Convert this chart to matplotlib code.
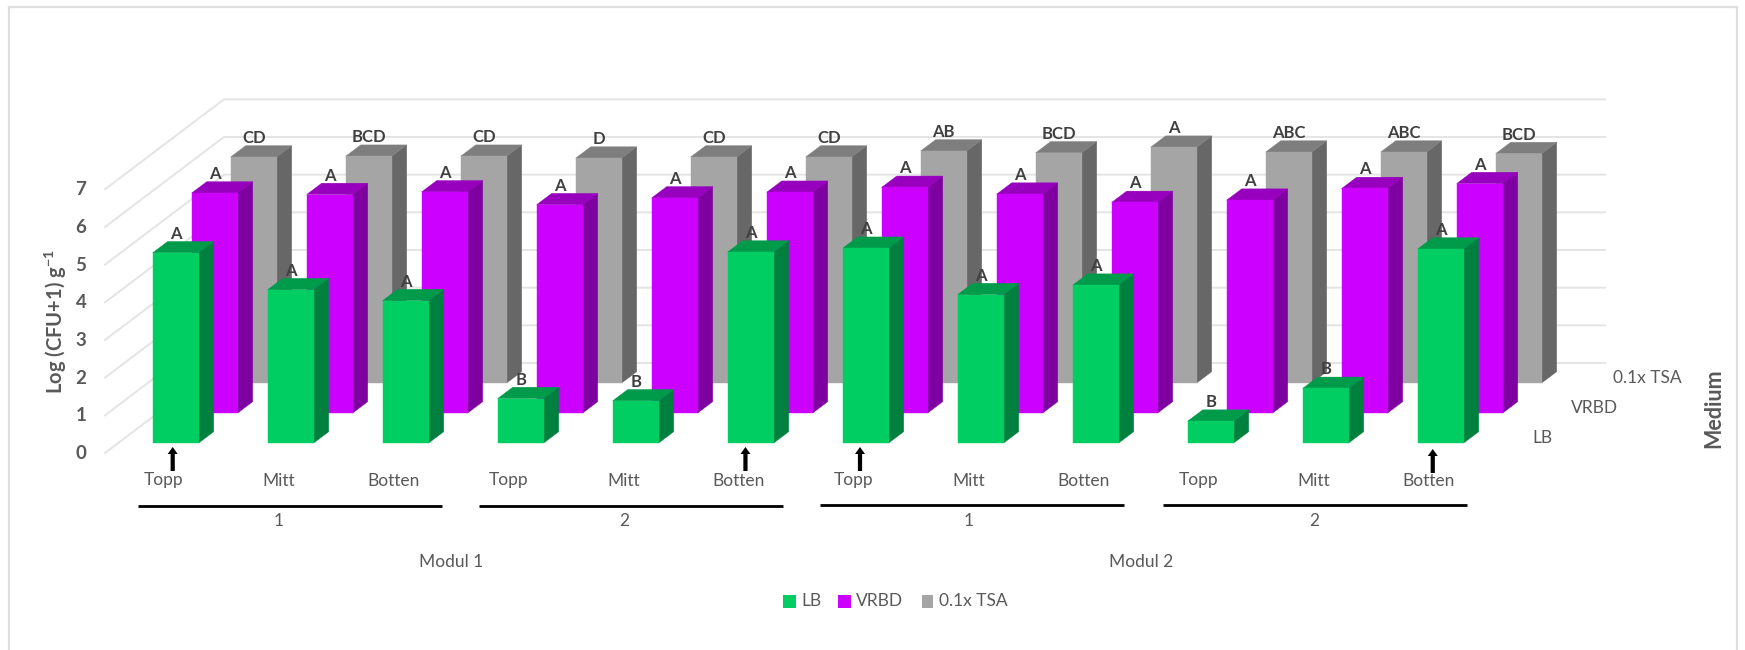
# -*- coding: utf-8 -*-
import matplotlib
matplotlib.use("Agg")
import matplotlib.pyplot as plt
from matplotlib.patches import Polygon, Rectangle, FancyArrow

plt.rcParams['font.family'] = ['Lato', 'DejaVu Sans']

# data
positions = ["Topp", "Mitt", "Botten"] * 4
rows = ["1", "2", "1", "2"]
modules = ["Modul 1", "Modul 2"]
media = ["LB", "VRBD", "0.1x TSA"]
y_ticks = [0, 1, 2, 3, 4, 5, 6, 7]

lb = [5.05, 4.07, 3.78, 1.18, 1.12, 5.07, 5.17, 3.94, 4.19, 0.58, 1.45, 5.15]
vrbd = [5.84, 5.80, 5.87, 5.53, 5.71, 5.86, 5.99, 5.81, 5.59, 5.65, 5.96, 6.09]
tsa = [6.00, 6.02, 6.02, 5.97, 6.00, 6.00, 6.16, 6.11, 6.26, 6.13, 6.13, 6.09]

lb_letters = ["A", "A", "A", "B", "B", "A", "A", "A", "A", "B", "B", "A"]
vrbd_letters = ["A"] * 12
tsa_letters = ["CD", "BCD", "CD", "D", "CD", "CD", "AB", "BCD", "A", "ABC", "ABC", "BCD"]

arrow_bars = [0, 5, 6, 11]

# colours: front, side, top
lb_col = ("#00CE63", "#00803E", "#009A4B")
vrbd_col = ("#CC00FF", "#7F00A0", "#9700BC")
tsa_col = ("#A5A5A5", "#676767", "#7E7E7E")
grid_col = "#E4E4E4"
text_col = "#595959"
label_col = "#404040"

# chart geometry, in figure pixels
unit = 37.67
cat_step = 115.0
bar_w = 46.0
first_left = 152.7
depth_dx, depth_dy = 39.0, -30.0
lb_base = 443.0
side_dx, side_dy = 15.0, -11.3


def front(cat, depth, value):
    # left-lower corner of a bar face, oblique projection
    x = first_left + cat * cat_step + depth * depth_dx
    y = lb_base + depth * depth_dy - value * unit
    return x, y


fig = plt.figure(figsize=(17.45, 6.5), dpi=100)
ax = fig.add_axes([0, 0, 1, 1])
ax.set_xlim(0, 1745)
ax.set_ylim(650, 0)
ax.axis("off")

# chart frame (no bottom edge visible)
ax.plot([9, 9], [650, 7], color="#DEDEDE", lw=1.6, zorder=1)
ax.plot([9, 1737], [7, 7], color="#DEDEDE", lw=1.6, zorder=1)
ax.plot([1737, 1737], [7, 650], color="#DEDEDE", lw=1.6, zorder=1)

# gridlines: side wall then back wall
for t in y_ticks:
    y0 = 453 - t * unit
    ax.plot([105, 224, 1605], [y0, y0 - 90, y0 - 90], color=grid_col, lw=1.4,
            solid_joinstyle="miter", zorder=2)
    ax.text(81, y0 + 0.5, str(t), ha="center", va="center", fontsize=13.5,
            fontweight="bold", color=text_col, zorder=10)


def draw_series(values, letters, depth, cols, z):
    for i, v in enumerate(values):
        x, y_base = front(i, depth, 0)
        _, y_top = front(i, depth, v)
        ax.add_patch(Polygon([(x + bar_w, y_base), (x + bar_w + side_dx, y_base + side_dy),
                              (x + bar_w + side_dx, y_top + side_dy), (x + bar_w, y_top)],
                             fc=cols[1], ec=cols[1], lw=0.3, zorder=z + i * 0.01))
        ax.add_patch(Polygon([(x, y_top), (x + bar_w, y_top),
                              (x + bar_w + side_dx, y_top + side_dy), (x + side_dx, y_top + side_dy)],
                             fc=cols[2], ec=cols[2], lw=0.3, zorder=z + i * 0.01))
        ax.add_patch(Rectangle((x, y_top), bar_w, y_base - y_top, fc=cols[0], ec=cols[0],
                               lw=0.3, zorder=z + i * 0.01 + 0.001))
        ax.text(x + bar_w / 2, y_top - 19, letters[i], ha="center", va="center",
                fontsize=12, fontweight="bold", color=label_col, zorder=z + 0.5)


draw_series(tsa, tsa_letters, 2, tsa_col, 3)
draw_series(vrbd, vrbd_letters, 1, vrbd_col, 4)
draw_series(lb, lb_letters, 0, lb_col, 5)

# category labels and arrows
for i, name in enumerate(positions):
    ax.text(164 + i * cat_step, 480.5, name, ha="center", va="center", fontsize=12.5,
            color=text_col)

for i in arrow_bars:
    ax_x = 172.7 if i == 0 else 172.7 + i * cat_step - (i * 0.45)
    tail = 471 if i < 11 else 473
    ax.add_patch(FancyArrow(ax_x, tail, 0, -24, width=4.2, head_width=10, head_length=7,
                            length_includes_head=True, fc="black", ec="black", lw=0,
                            zorder=9))

# group lines
line_spans = [(138, 442), (479, 783), (820, 1124), (1163, 1467)]
line_ys = [505.5, 505.5, 504.5, 504.5]
for n, (x0, x1) in enumerate(line_spans):
    ax.plot([x0, x1], [line_ys[n], line_ys[n]], color="black", lw=2.0,
            solid_capstyle="butt", zorder=9)
    ax.text(279 + n * 3 * cat_step, 521.5, rows[n], ha="center", va="center",
            fontsize=12.5, color=text_col)

for m, name in enumerate(modules):
    ax.text(451 + m * 690, 562, name, ha="center", va="center", fontsize=12.5, color=text_col)

# depth axis labels
for d, name in enumerate(media):
    ax.text(1542 + d * 52.7, 438 - d * 30, name, ha="center", va="center", fontsize=12.5,
            color=text_col)

ax.text(55.5, 321.5, "Log (CFU+1) g$^{\\mathregular{-1}}$", rotation=90, ha="center", va="center",
        fontsize=14.5, fontweight="bold", color=text_col)
ax.text(1714, 408, "Medium", rotation=90, ha="center", va="center", fontsize=15.5,
        fontweight="bold", color=text_col)

# legend, drawn by hand to keep the spacing of the original
leg_x = [783, 838, 922]
leg_w = [13, 13, 11]
leg_tx = [801, 856, 939]
for k, name in enumerate(media):
    col = [lb_col, vrbd_col, tsa_col][k][0]
    ax.add_patch(Rectangle((leg_x[k], 595), leg_w[k], 13, fc=col, ec="none", zorder=9))
    ax.text(leg_tx[k], 601.5, name, ha="left", va="center", fontsize=12.5, color=text_col)

fig.savefig("out.png", dpi=100)
